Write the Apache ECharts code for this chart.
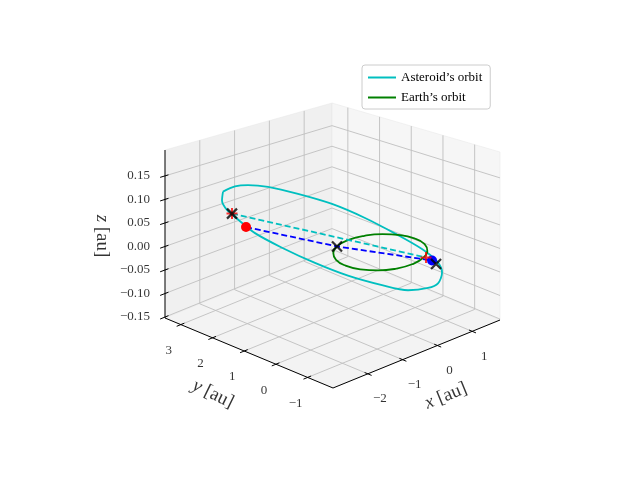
<!DOCTYPE html>
<html><head><meta charset="utf-8">
<script src="https://cdn.jsdelivr.net/npm/echarts@6/dist/echarts.min.js"></script>
<style>html,body{margin:0;padding:0;background:#fff}#c{width:640px;height:480px}</style>
</head><body><div id="c"></div>
<script>
// ---- data (au) ----
const xTicks = [-2, -1, 0, 1];
const yTicks = [-1, 0, 1, 2, 3];
const zTicks = [-0.15, -0.10, -0.05, 0.00, 0.05, 0.10, 0.15];
const zTickLabels = ['\u22120.15', '\u22120.10', '\u22120.05', '0.00', '0.05', '0.10', '0.15'];
const xLim = [-3.0, 1.8];
const yLim = [-1.8, 3.5];
const zLim = [-0.152, 0.205];
const asteroidOrbit = [
  [-1.691, 3.106, 0.096], [-1.166, 3.305, 0.089], [-0.785, 3.313, 0.082], [-0.336, 3.174, 0.070],
  [0.151, 2.763, 0.052], [0.599, 2.182, 0.032], [0.888, 1.457, 0.011], [1.042, 0.585, -0.009],
  [1.113, -0.093, -0.024], [1.036, -0.651, -0.034], [0.752, -1.122, -0.037], [0.283, -1.510, -0.036],
  [-0.127, -1.644, -0.030], [-0.677, -1.618, -0.019], [-1.135, -1.300, -0.003], [-1.618, -0.756, 0.017],
  [-1.974, -0.106, 0.037], [-2.264, 0.617, 0.058], [-2.407, 1.311, 0.074], [-2.344, 1.916, 0.085],
  [-2.271, 2.344, 0.092], [-2.054, 2.740, 0.096], [-1.691, 3.106, 0.096]
];
const earthOrbit = [
  [1, 0, 0], [0.924, 0.383, 0], [0.707, 0.707, 0], [0.383, 0.924, 0], [0, 1, 0],
  [-0.383, 0.924, 0], [-0.707, 0.707, 0], [-0.924, 0.383, 0], [-1, 0, 0],
  [-0.924, -0.383, 0], [-0.707, -0.707, 0], [-0.383, -0.924, 0], [0, -1, 0],
  [0.383, -0.924, 0], [0.707, -0.707, 0], [0.924, -0.383, 0], [1, 0, 0]
];
const crossPoints = [[-2.286, 2.170, 0.089], [-0.413, 0.913, 0.0], [0.911, -0.758, -0.033]];
const plusPoints = [[-2.286, 2.170, 0.089], [0.906, -0.447, -0.027]];
const redDot = [[-2.421, 1.579, 0.080]];
const blueDot = [[0.950, -0.589, -0.031]];
const cyanDashed = [[-2.286, 2.170, 0.089], [0.906, -0.447, -0.027]];
const blueDashed = [[-2.421, 1.579, 0.080], [-0.413, 0.913, 0.0], [0.950, -0.589, -0.031]];

// ---- projection (approximate matplotlib view elev=30, azim=-60) ----
function P(x, y, z) {
  const u = (x - xLim[0]) / (xLim[1] - xLim[0]);
  const v = (y - yLim[0]) / (yLim[1] - yLim[0]);
  const w = (z - zLim[0]) / (zLim[1] - zLim[0]);
  return [333 + 167 * u - 168 * v, 388 - 68 * u - 70 * v - (168 - 21 * u * v) * w];
}
const pr = arr => arr.map(p => P(p[0], p[1], p[2]));
const [X0, X1] = xLim, [Y0, Y1] = yLim, [Z0, Z1] = zLim;

const panes = [
  {pts: [[X0,Y1,Z0],[X1,Y1,Z0],[X1,Y1,Z1],[X0,Y1,Z1]], c: '#f0f0f0'},
  {pts: [[X1,Y0,Z0],[X1,Y1,Z0],[X1,Y1,Z1],[X1,Y0,Z1]], c: '#f6f6f6'},
  {pts: [[X0,Y0,Z0],[X1,Y0,Z0],[X1,Y1,Z0],[X0,Y1,Z0]], c: '#f3f3f3'}
];
const gridSegs = [];
xTicks.forEach(t => { gridSegs.push([[t,Y1,Z0],[t,Y1,Z1]]); gridSegs.push([[t,Y0,Z0],[t,Y1,Z0]]); });
yTicks.forEach(t => { gridSegs.push([[X1,t,Z0],[X1,t,Z1]]); gridSegs.push([[X0,t,Z0],[X1,t,Z0]]); });
zTicks.forEach(t => { gridSegs.push([[X0,Y1,t],[X1,Y1,t]]); gridSegs.push([[X1,Y0,t],[X1,Y1,t]]); });
const axisSegs = [[[X0,Y0,Z0],[X1,Y0,Z0]], [[X0,Y0,Z0],[X0,Y1,Z0]], [[X0,Y1,Z0],[X0,Y1,Z1]]];
xTicks.forEach(t => axisSegs.push([[t,Y0-0.12,Z0],[t,Y0+0.1,Z0]]));
yTicks.forEach(t => axisSegs.push([[X0-0.12,t,Z0],[X0+0.1,t,Z0]]));
zTicks.forEach(t => axisSegs.push([[X0-0.14,Y1,t],[X0+0.1,Y1,t]]));

const font = 'Liberation Serif, DejaVu Serif, serif';
const labelData = [];
xTicks.forEach(t => { const p = P(t, Y0, Z0); labelData.push({value:[p[0]+12, p[1]+25], t: String(t).replace('-', '\u2212'), a:'center'}); });
yTicks.forEach(t => { const p = P(X0, t, Z0); labelData.push({value:[p[0]-12, p[1]+26], t: String(t).replace('-', '\u2212'), a:'center'}); });
zTicks.forEach((t, i) => { const p = P(X0, Y1, t); labelData.push({value:[p[0]-15, p[1]], t: zTickLabels[i], a:'right'}); });

const segSeries = (segs, color, width, zl) => ({
  type: 'custom', coordinateSystem: 'cartesian2d', silent: true, z: zl,
  data: segs.map(s => { const a = P(...s[0]), b = P(...s[1]); return [a[0], a[1], b[0], b[1]]; }),
  renderItem: (params, api) => {
    const a = api.coord([api.value(0), api.value(1)]), b = api.coord([api.value(2), api.value(3)]);
    return {type: 'line', shape: {x1:a[0], y1:a[1], x2:b[0], y2:b[1]}, style: {stroke: color, lineWidth: width}};
  }
});
const title = (pos, txt, rot) => ({value: pos, label: {show: true, position: 'inside', formatter: '{i|' + txt + '} [au]', rotate: rot, fontFamily: font, fontSize: 19, color: '#000', rich: {i: {fontStyle: 'italic', fontFamily: font, fontSize: 19}}}});

const chart = echarts.init(document.getElementById('c'));
chart.setOption({
  animation: false,
  grid: {left: 0, right: 0, top: 0, bottom: 0},
  xAxis: {type: 'value', min: 0, max: 640, show: false},
  yAxis: {type: 'value', min: 0, max: 480, inverse: true, show: false},
  legend: {
    orient: 'vertical', left: 362, top: 65, data: ["Asteroid\u2019s orbit", "Earth\u2019s orbit"],
    icon: 'rect', itemWidth: 28, itemHeight: 2, itemGap: 7,
    padding: [6, 8, 5, 6], borderColor: '#cccccc', borderWidth: 1, borderRadius: 3, backgroundColor: '#fff',
    textStyle: {fontFamily: font, fontSize: 13, color: '#000'}
  },
  series: [
    {
      type: 'custom', silent: true, z: 1,
      data: panes.map((p, i) => [i]),
      renderItem: (params, api) => {
        const pane = panes[api.value(0)];
        return {type: 'polygon', shape: {points: pane.pts.map(q => api.coord(P(...q)))}, style: {fill: pane.c, stroke: '#e6e6e6', lineWidth: 0.5}};
      }
    },
    segSeries(gridSegs, '#c0c0c0', 0.9, 2),
    segSeries(axisSegs, '#000', 1, 3),
    {type: 'scatter', symbolSize: 0, z: 4, silent: true,
      data: labelData.map(d => ({value: d.value, label: {show: true, position: 'inside', formatter: d.t, align: d.a, verticalAlign: 'middle', fontFamily: font, fontSize: 13, color: '#000'}}))},
    {type: 'scatter', symbolSize: 0, z: 4, silent: true,
      data: [title([446, 396], 'x', 22), title([213, 394], 'y', -26), title([102, 236], 'z', -90)]},
    {name: "Asteroid\u2019s orbit", type: 'line', z: 5, data: pr(asteroidOrbit), smooth: 0.3, showSymbol: false, symbol: 'none', color: '#00bfbf', lineStyle: {width: 1.8, color: '#00bfbf'}},
    {name: "Earth\u2019s orbit", type: 'line', z: 5, data: pr(earthOrbit), smooth: 0.5, showSymbol: false, symbol: 'none', color: '#008000', lineStyle: {width: 1.8, color: '#008000'}},
    {type: 'line', z: 6, data: pr(cyanDashed), symbol: 'none', lineStyle: {width: 1.8, color: '#00bfbf', type: [6, 3]}},
    {type: 'line', z: 6, data: pr(blueDashed), symbol: 'none', lineStyle: {width: 1.8, color: '#0000ff', type: [6, 3]}},
    {type: 'scatter', z: 7, data: pr(redDot), symbol: 'circle', symbolSize: 10, itemStyle: {color: '#ff0000', opacity: 1}},
    {type: 'scatter', z: 7, data: pr(blueDot), symbol: 'circle', symbolSize: 10, itemStyle: {color: '#0000ff', opacity: 1}},
    {type: 'scatter', z: 8, data: pr(plusPoints), symbol: 'path://M5,0L5,10M0,5L10,5', symbolSize: 11, itemStyle: {color: 'none', borderColor: '#ff0000', borderWidth: 2}},
    {type: 'scatter', z: 9, data: pr(crossPoints), symbol: 'path://M0,0L10,10M10,0L0,10', symbolSize: 10, itemStyle: {color: 'none', borderColor: '#000', borderWidth: 2.2}}
  ]
});
</script></body></html>
